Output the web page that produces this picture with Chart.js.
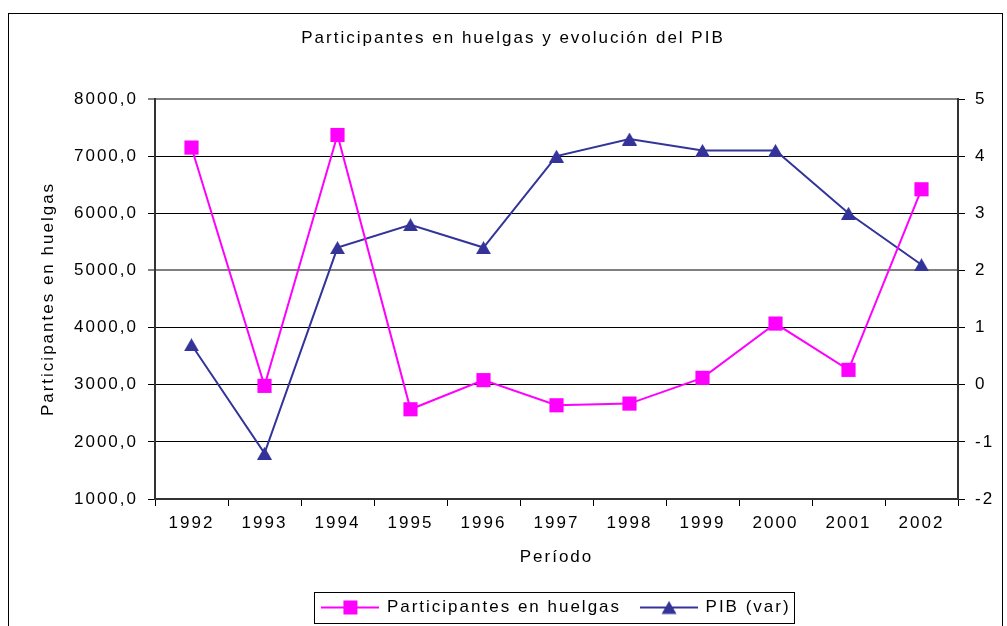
<!DOCTYPE html>
<html>
<head>
<meta charset="utf-8">
<script src="https://cdn.jsdelivr.net/npm/chart.js@4.4.1/dist/chart.umd.min.js"></script>
<style>
  html, body { margin: 0; padding: 0; background: #fff; }
  canvas { display: block; }
</style>
</head>
<body>
<canvas id="chart" width="1007" height="626"></canvas>
<script>
// Data
const years = ['1992', '1993', '1994', '1995', '1996', '1997', '1998', '1999', '2000', '2001', '2002'];
const participantes = [7150, 2980, 7370, 2570, 3080, 2640, 2670, 3120, 4070, 3260, 6420];
const pibVar = [0.7, -1.2, 2.4, 2.8, 2.4, 4.0, 4.3, 4.1, 4.1, 3.0, 2.1];

const leftRange = [1000, 8000, 1000];   // min, max, step
const rightRange = [-2, 5, 1];

const PINK = '#FF00FF';
const BLUE = '#333399';

Chart.defaults.font.family = '"Liberation Sans", Arial, sans-serif';
Chart.defaults.font.size = 17;
Chart.defaults.color = '#000';

// Excel-like triangle marker, centred on its bounding box
function triangleImage(w, h, color) {
    const c = document.createElement('canvas');
    c.width = w; c.height = h;
    const g = c.getContext('2d');
    g.fillStyle = color;
    g.beginPath();
    g.moveTo(w / 2, 0);
    g.lineTo(w, h);
    g.lineTo(0, h);
    g.closePath();
    g.fill();
    return c;
}

// Legend icon: line with marker in the middle
function legendIcon(color, marker) {
    const c = document.createElement('canvas');
    c.width = 58; c.height = 16;
    const g = c.getContext('2d');
    g.strokeStyle = color;
    g.lineWidth = 2;
    g.beginPath();
    g.moveTo(0, 8);
    g.lineTo(58, 8);
    g.stroke();
    g.fillStyle = color;
    if (marker === 'square') {
        g.fillRect(22, 1, 14, 14);
    } else {
        g.beginPath();
        g.moveTo(29, 1.5);
        g.lineTo(36.5, 14.5);
        g.lineTo(21.5, 14.5);
        g.closePath();
        g.fill();
    }
    return c;
}

const triMarker = triangleImage(15, 13, BLUE);
const legendIcons = [legendIcon(PINK, 'square'), legendIcon(BLUE, 'triangle')];

const SPACING = '2px';
const spacingPlugin = {
    id: 'spacing',
    beforeUpdate(chart) { chart.ctx.letterSpacing = SPACING; },
    beforeLayout(chart) { chart.ctx.letterSpacing = SPACING; },
    beforeDraw(chart) { chart.ctx.letterSpacing = SPACING; }
};

const framePlugin = {
    id: 'frame',
    afterDraw(chart) {
        const ctx = chart.ctx;
        ctx.save();
        ctx.strokeStyle = '#000';
        ctx.lineWidth = 1;
        ctx.strokeRect(8.5, 13.5, 994, 700);
        // box around the legend
        const hb = chart.legend.legendHitBoxes;
        if (hb && hb.length) {
            const first = hb[0];
            const last = hb[hb.length - 1];
            const x0 = Math.round(first.left - 8) + 0.5;
            const x1 = Math.round(last.left + last.width + 3) + 0.5;
            const y0 = Math.round(first.top - 7) + 0.5;
            const y1 = Math.round(first.top + first.height + 7) + 0.5;
            ctx.strokeRect(x0, y0, x1 - x0, y1 - y0);
        }
        ctx.restore();
    }
};

const fmtLeft = v => v.toFixed(1).replace('.', ',');

new Chart(document.getElementById('chart'), {
    type: 'line',
    data: {
        labels: years,
        datasets: [{
            label: 'Participantes en huelgas',
            data: participantes,
            yAxisID: 'y',
            borderColor: PINK,
            backgroundColor: PINK,
            borderWidth: 2,
            pointStyle: 'rect',
            pointRadius: 10,
            pointBorderWidth: 0,
            tension: 0
        }, {
            label: 'PIB (var)',
            data: pibVar,
            yAxisID: 'y1',
            borderColor: BLUE,
            backgroundColor: BLUE,
            borderWidth: 2,
            pointStyle: triMarker,
            pointRadius: 8,
            tension: 0
        }]
    },
    options: {
        responsive: false,
        animation: false,
        events: [],
        layout: { padding: { left: 19, right: 0, top: 0, bottom: 0 } },
        plugins: {
            title: {
                display: true,
                text: 'Participantes en huelgas y evolución del PIB',
                font: { size: 17, weight: 'normal' },
                padding: { top: 27.8, bottom: 50.8 }
            },
            legend: {
                position: 'bottom',
                fullSize: false,
                labels: {
                    usePointStyle: true,
                    pointStyleWidth: 56,
                    padding: 20,
                    font: { size: 17 },
                    generateLabels(chart) {
                        return Chart.defaults.plugins.legend.labels.generateLabels(chart)
                            .map((item, i) => Object.assign(item, { pointStyle: legendIcons[i] }));
                    }
                }
            },
            tooltip: { enabled: false }
        },
        scales: {
            x: {
                offset: true,
                grid: { offset: true, drawOnChartArea: false, drawTicks: true, tickLength: 7, color: '#000' },
                border: { color: '#333', width: 2 },
                ticks: { padding: 7, color: '#000', maxRotation: 0 },
                title: { display: true, text: 'Período', padding: { top: 0, bottom: 11.8 } },
                afterFit(scale) { scale.height = 80; }
            },
            y: {
                position: 'left',
                min: leftRange[0],
                max: leftRange[1],
                ticks: { stepSize: leftRange[2], padding: 10, callback: v => fmtLeft(v) },
                grid: {
                    tickLength: 7,
                    color: ctx => (ctx.tick && (ctx.tick.value === 5000 || ctx.tick.value === 8000)) ? '#808080' : '#000',
                    lineWidth: ctx => (ctx.tick && (ctx.tick.value === 5000 || ctx.tick.value === 8000)) ? 2 : 1
                },
                border: { color: '#333', width: 2 },
                title: { display: true, text: 'Participantes en huelgas', padding: { top: 18.8, bottom: 0 } },
                afterFit(scale) { scale.width = 136; }
            },
            y1: {
                position: 'right',
                min: rightRange[0],
                max: rightRange[1],
                ticks: { stepSize: rightRange[2], padding: 10 },
                grid: { drawOnChartArea: false, tickLength: 7, color: '#000' },
                border: { color: '#333', width: 2 },
                afterFit(scale) { scale.width = 49; }
            }
        }
    },
    plugins: [spacingPlugin, framePlugin]
});
</script>
</body>
</html>
